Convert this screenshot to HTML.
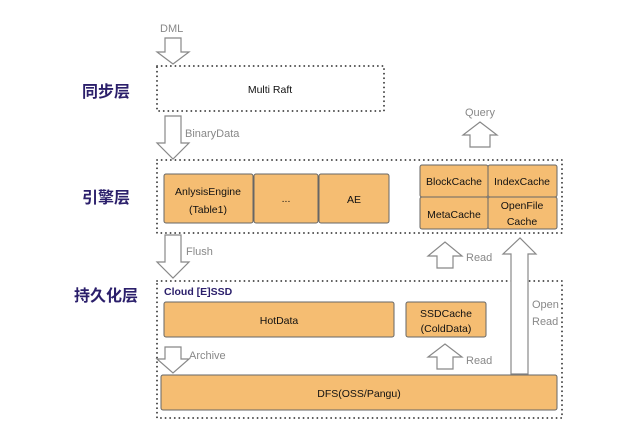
<!DOCTYPE html>
<html><head><meta charset="utf-8"><style>
html,body{margin:0;padding:0;background:#fff;}
svg{display:block;}
text{font-family:"Liberation Sans","Noto Sans CJK SC",sans-serif;}
</style></head><body>
<svg width="640" height="436" viewBox="0 0 640 436" xmlns="http://www.w3.org/2000/svg">
<g fill="none" stroke="#333" stroke-width="1.8" stroke-dasharray="0.1 4.5" stroke-linecap="round">
<rect x="157" y="66" width="227" height="45"/>
<rect x="157" y="160" width="405" height="73"/>
<rect x="157" y="281" width="405" height="137"/>
</g>
<g fill="#f5bd72" stroke="#666" stroke-width="1">
<rect x="164" y="174" width="89" height="49" rx="2"/>
<rect x="254" y="174" width="64" height="49" rx="2"/>
<rect x="319" y="174" width="70" height="49" rx="2"/>
<rect x="420" y="165" width="68" height="32" rx="2"/>
<rect x="488" y="165" width="69" height="32" rx="2"/>
<rect x="420" y="197" width="68" height="32" rx="2"/>
<rect x="488" y="197" width="69" height="32" rx="2"/>
<rect x="164" y="302" width="230" height="35" rx="2"/>
<rect x="406" y="302" width="80" height="35" rx="2"/>
<rect x="161" y="375" width="396" height="35" rx="2"/>
</g>
<g fill="#fff" stroke="#888" stroke-width="1.2">
<polygon points="165,38 181,38 181,52 189,52 173,64 157,52 165,52"/>
<polygon points="165,116 181,116 181,143 189,143 173,159 157,143 165,143"/>
<polygon points="165,235 181,235 181,262 189,262 173,278 157,262 165,262"/>
<polygon points="165,347 181,347 181,359 189,359 173,373 157,359 165,359"/>
<polygon points="470,147 490,147 490,135 497,135 480,122 463,135 470,135"/>
<polygon points="437,268 453,268 453,256 462,256 445,242 428,256 437,256"/>
<polygon points="437,369 453,369 453,357 462,357 445,344 428,357 437,357"/>
<polygon points="511,374 528,374 528,254 536,254 520,238 503,254 511,254"/>
</g>
<g font-size="11" fill="#888">
<text x="160" y="32">DML</text>
<text x="185" y="137">BinaryData</text>
<text x="186" y="255">Flush</text>
<text x="189" y="359">Archive</text>
<text x="465" y="116">Query</text>
<text x="466" y="261">Read</text>
<text x="466" y="364">Read</text>
<text x="532" y="308">Open</text>
<text x="532" y="325">Read</text>
</g>
<g font-size="10.5" fill="#111" text-anchor="middle">
<text x="270" y="93">Multi Raft</text>
<text x="208" y="195">AnlysisEngine</text>
<text x="208" y="213">(Table1)</text>
<text x="286" y="202">...</text>
<text x="354" y="203">AE</text>
<text x="454" y="185">BlockCache</text>
<text x="522" y="185">IndexCache</text>
<text x="454" y="218">MetaCache</text>
<text x="522" y="209">OpenFile</text>
<text x="522" y="225">Cache</text>
<text x="279" y="324">HotData</text>
<text x="446" y="317">SSDCache</text>
<text x="446" y="332">(ColdData)</text>
<text x="359" y="397">DFS(OSS/Pangu)</text>
</g>
<text x="164" y="295" font-size="10.5" font-weight="bold" fill="#2b1f6b">Cloud [E]SSD</text>
<g font-size="16" font-weight="bold" fill="#2b1f6b">
<text x="82" y="97">同步层</text>
<text x="82" y="203">引擎层</text>
<text x="74" y="301">持久化层</text>
</g>
</svg>
</body></html>
